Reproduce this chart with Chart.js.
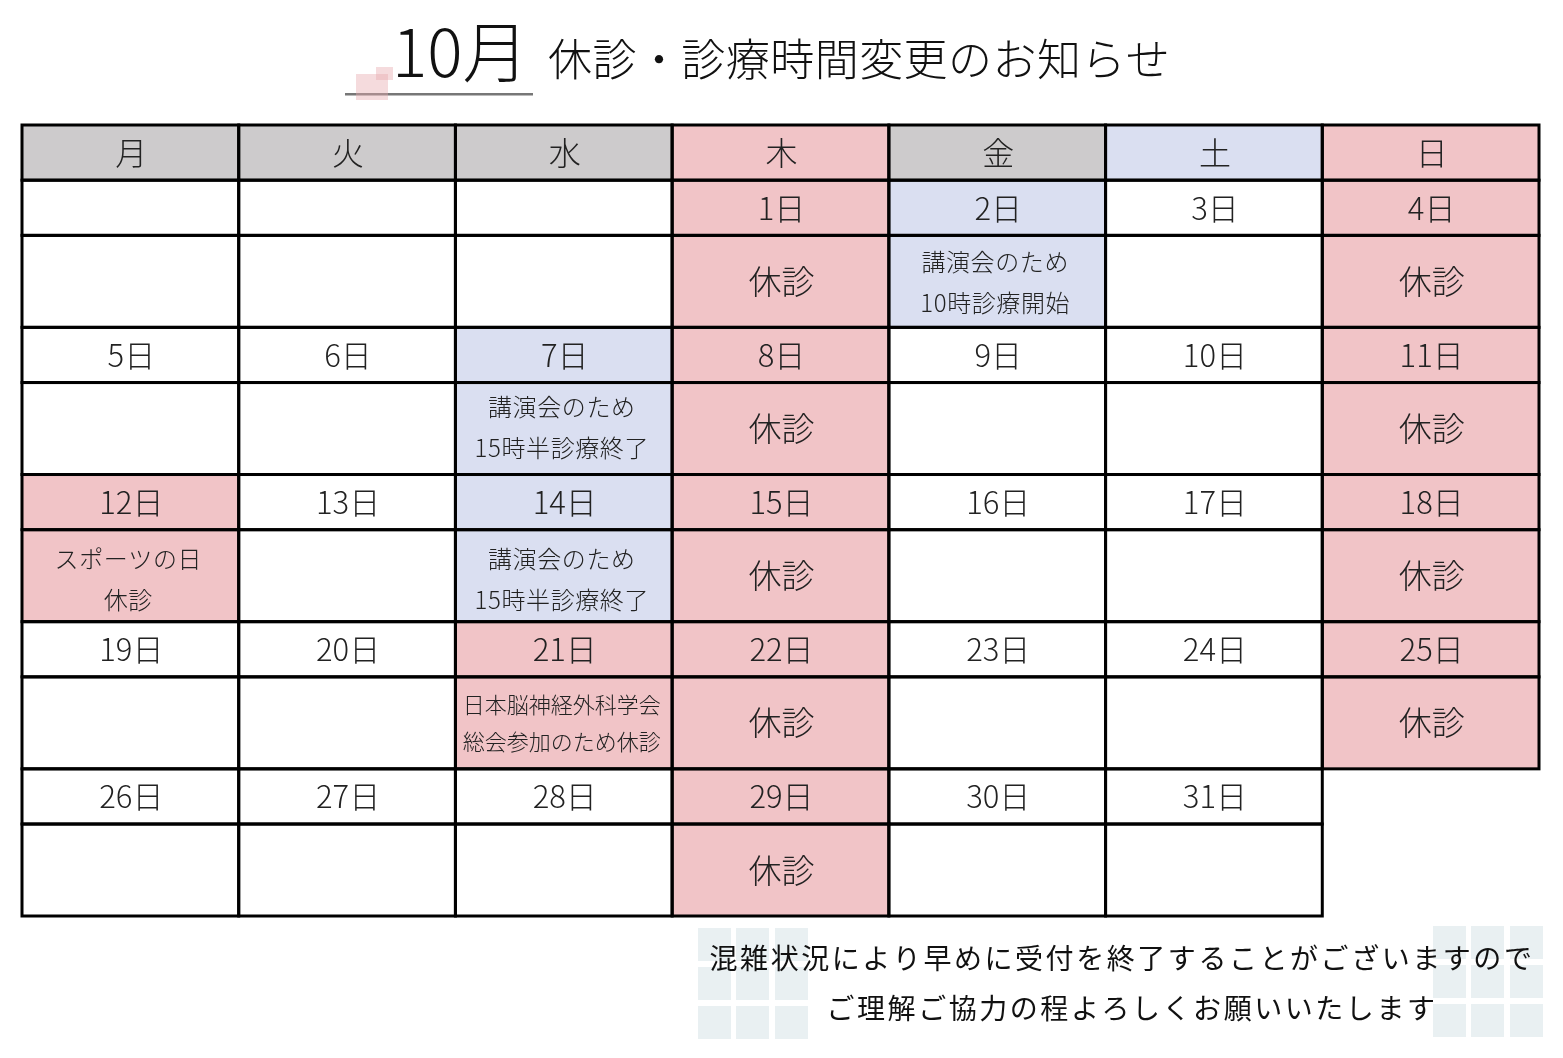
<!DOCTYPE html>
<html lang="ja">
<head>
<meta charset="utf-8">
<title>10月 休診・診療時間変更のお知らせ</title>
<script src="https://cdn.jsdelivr.net/npm/chart.js@4"></script>
<style>
  html, body { margin: 0; padding: 0; background: #fff; }
  canvas { display: block; }
</style>
</head>
<body>
<canvas id="calendar" width="1563" height="1058"></canvas>
<script>
// data: '' = empty cell, null = no cell at all
const weekdays = ['月', '火', '水', '木', '金', '土', '日'];
const headerKinds = ['plain', 'plain', 'plain', 'closed', 'plain', 'changed', 'closed'];

const week1Days = ['', '', '', '1日', '2日', '3日', '4日'];
const week2Days = ['5日', '6日', '7日', '8日', '9日', '10日', '11日'];
const week3Days = ['12日', '13日', '14日', '15日', '16日', '17日', '18日'];
const week4Days = ['19日', '20日', '21日', '22日', '23日', '24日', '25日'];
const week5Days = ['26日', '27日', '28日', '29日', '30日', '31日', null];

const week1Notes = ['', '', '', '休診', '講演会のため\n10時診療開始', '', '休診'];
const week2Notes = ['', '', '講演会のため\n15時半診療終了', '休診', '', '', '休診'];
const week3Notes = ['スポーツの日\n休診', '', '講演会のため\n15時半診療終了', '休診', '', '', '休診'];
const week4Notes = ['', '', '日本脳神経外科学会\n総会参加のため休診', '休診', '', '', '休診'];
const week5Notes = ['', '', '', '休診', '', '', null];

const allDays = [week1Days, week2Days, week3Days, week4Days, week5Days];
const allNotes = [week1Notes, week2Notes, week3Notes, week4Notes, week5Notes];

const titleMonth = '10月';
const titleRest = '休診・診療時間変更のお知らせ';
const footerLines = ['混雑状況により早めに受付を終了することがございますので', 'ご理解ご協力の程よろしくお願いいたします'];

const colors = { plain: '#cdcbcc', closed: '#f1c4c7', changed: '#dadff1', none: '#ffffff' };
const FONT = '"Noto Sans CJK JP", sans-serif';
const DAY_ROW = 0.375; // share of a week taken by the date row
const NOTE_SHIFT = [1, -1, 4, 0, 0]; // two-line notes do not sit quite centred in the original

const kindOf = note => !note ? 'none' : (note.includes('休診') ? 'closed' : 'changed');

const datasets = [{
    data: weekdays.map(() => [-DAY_ROW, 0]),
    backgroundColor: headerKinds.map(k => colors[k]),
    texts: weekdays,
    size: 32,
    week: 0
}];
allDays.forEach((days, w) => {
    datasets.push({
        data: days.map(d => d === null ? null : [w, w + DAY_ROW]),
        backgroundColor: allNotes[w].map(n => colors[kindOf(n)]),
        texts: days,
        size: 31,
        week: w
    });
    datasets.push({
        data: allNotes[w].map(n => n === null ? null : [w + DAY_ROW, w + 1]),
        backgroundColor: allNotes[w].map(n => colors[kindOf(n)]),
        texts: allNotes[w],
        size: 33,
        week: w
    });
});
datasets.forEach(ds => {
    ds.grouped = false;
    ds.barPercentage = 1;
    ds.categoryPercentage = 1;
    ds.borderWidth = 0;
});

// background squares behind the title and the footer
const drawDecor = {
    id: 'drawDecor',
    beforeDraw(chart) {
        const ctx = chart.ctx;
        ctx.save();
        ctx.fillStyle = '#e9f0f2';
        [698, 736, 775].forEach(x => [928, 967, 1006].forEach(y => ctx.fillRect(x, y, 33, 33)));
        [1433, 1471, 1510].forEach(x => [926, 965, 1004].forEach(y => ctx.fillRect(x, y, 33, 33)));
        ctx.fillStyle = '#777';
        ctx.fillRect(345, 93, 188, 2.5);
        ctx.fillStyle = 'rgba(231, 170, 175, 0.42)';
        ctx.fillRect(356, 74, 32, 26);
        ctx.fillRect(376, 67, 17, 13);
        ctx.restore();
    }
};

// cell lines and all the text, placed from the bar elements
const drawCells = {
    id: 'drawCells',
    afterDraw(chart) {
        const ctx = chart.ctx;
        ctx.save();
        ctx.strokeStyle = '#000';
        ctx.lineWidth = 3;
        chart.data.datasets.forEach((ds, i) => {
            chart.getDatasetMeta(i).data.forEach((bar, c) => {
                if (ds.data[c] === null) return;
                const p = bar.getProps(['x', 'y', 'base', 'width']);
                ctx.strokeRect(p.x - p.width / 2, Math.min(p.y, p.base), p.width, Math.abs(p.base - p.y));
            });
        });

        ctx.textAlign = 'center';
        ctx.textBaseline = 'middle';
        ctx.fillStyle = '#222';
        chart.data.datasets.forEach((ds, i) => {
            chart.getDatasetMeta(i).data.forEach((bar, c) => {
                const text = ds.texts[c];
                if (!text) return;
                const p = bar.getProps(['x', 'y', 'base']);
                const cy = (p.y + p.base) / 2;
                const lines = text.split('\n');
                if (lines.length === 1) {
                    ctx.font = `300 ${ds.size}px ${FONT}`;
                    ctx.letterSpacing = '0px';
                    ctx.fillText(text, p.x + 1, cy);
                    return;
                }
                const long = lines[0].length >= 9;
                ctx.font = `300 ${long ? 22 : 24}px ${FONT}`;
                ctx.letterSpacing = long ? '0px' : '0.6px';
                const gap = long ? 18.5 : 20.5;
                const mid = cy + NOTE_SHIFT[ds.week];
                ctx.fillText(lines[0], p.x - 2, mid - gap);
                ctx.fillText(lines[1], p.x - 2, mid + gap);
            });
        });

        ctx.textBaseline = 'alphabetic';
        ctx.textAlign = 'left';
        ctx.fillStyle = '#111';
        ctx.letterSpacing = '0px';
        ctx.font = `300 66px ${FONT}`;
        ctx.fillText(titleMonth, 392, 77);
        ctx.font = `300 44px ${FONT}`;
        ctx.letterSpacing = '0.45px';
        ctx.fillText(titleRest, 548, 76);

        ctx.textAlign = 'center';
        ctx.textBaseline = 'middle';
        ctx.font = `400 28px ${FONT}`;
        ctx.letterSpacing = '2.55px';
        ctx.fillText(footerLines[0], 1122, 958);
        ctx.fillText(footerLines[1], 1132, 1008);
        ctx.restore();
    }
};

new Chart(document.getElementById('calendar').getContext('2d'), {
    type: 'bar',
    data: { labels: weekdays, datasets },
    options: {
        responsive: false,
        animation: false,
        devicePixelRatio: 1,
        layout: { padding: { left: 22, right: 24, top: 125, bottom: 142 } },
        plugins: { legend: { display: false }, title: { display: false }, tooltip: { enabled: false } },
        scales: {
            x: { display: false },
            y: { display: false, reverse: true, min: -DAY_ROW, max: 5 }
        }
    },
    plugins: [drawDecor, drawCells]
});
</script>
</body>
</html>
